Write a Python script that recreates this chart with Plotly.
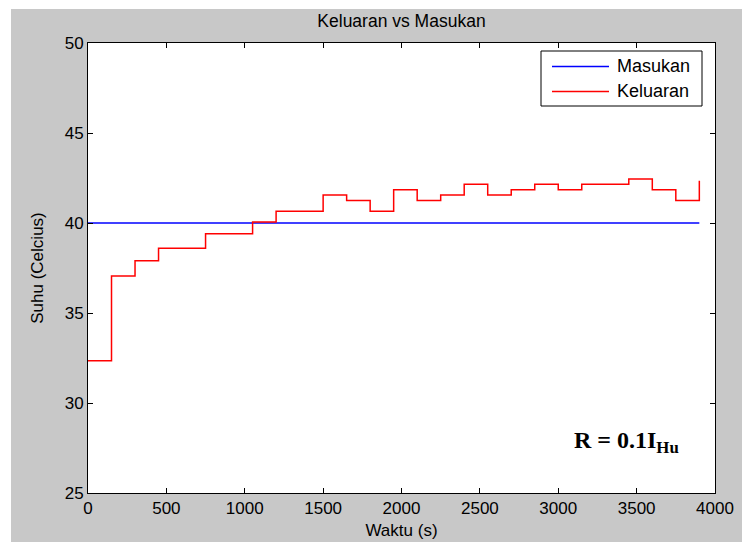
import plotly.graph_objects as go

# Sampled temperatures (every 150 s) and the constant set point
waktu = [0, 150, 300, 450, 600, 750, 900, 1050, 1200, 1350, 1500, 1650, 1800,
         1950, 2100, 2250, 2400, 2550, 2700, 2850, 3000, 3150, 3300, 3450,
         3600, 3750, 3900]
keluaran = [32.35, 37.05, 37.9, 38.6, 38.6, 39.4, 39.4, 40.05, 40.65, 40.65,
            41.55, 41.25, 40.65, 41.85, 41.25, 41.55, 42.15, 41.55, 41.85,
            42.15, 41.85, 42.15, 42.15, 42.45, 41.85, 41.25, 42.35]
masukan_t = [0, 3900]
masukan = [40, 40]

x_ticks = [0, 500, 1000, 1500, 2000, 2500, 3000, 3500, 4000]
y_ticks = [25, 30, 35, 40, 45, 50]

series = [("Masukan", "#0000ff"), ("Keluaran", "#ff0000")]

W, H = 742, 542
L, R, T, B = 88, 27, 43, 49
pw, ph = W - L - R, H - T - B


def px_x(p):
    return (p - L) / pw


def px_y(p):
    return (H - B - p) / ph


FONT = "Liberation Sans, Arial, sans-serif"

fig = go.Figure()
fig.add_trace(go.Scatter(x=masukan_t, y=masukan, mode="lines", name=series[0][0],
                         line=dict(color=series[0][1], width=1.5),
                         showlegend=False))
fig.add_trace(go.Scatter(x=waktu, y=keluaran, mode="lines", name=series[1][0],
                         line=dict(color=series[1][1], width=1.5, shape="hv"),
                         showlegend=False))

axis_common = dict(showgrid=False, zeroline=False, showline=True,
                   linecolor="black", linewidth=1, mirror="ticks",
                   ticks="inside", ticklen=5, tickcolor="black",
                   automargin=False,
                   tickfont=dict(family=FONT, size=17, color="black"))

fig.update_xaxes(range=[0, 4000], tickvals=x_ticks,
                 title=dict(text="Waktu (s)", standoff=6,
                            font=dict(family=FONT, size=17, color="black")),
                 **axis_common)
fig.update_yaxes(range=[25, 50], tickvals=y_ticks,
                 title=dict(text="Suhu (Celcius)", standoff=16,
                            font=dict(family=FONT, size=17, color="black")),
                 **axis_common)

# white border strips around the grey figure area
strip = dict(type="rect", xref="paper", yref="paper", fillcolor="white",
             line=dict(width=0), layer="below")
fig.add_shape(x0=px_x(0), x1=px_x(11), y0=px_y(H), y1=px_y(0), **strip)
fig.add_shape(x0=px_x(0), x1=px_x(W), y0=px_y(9), y1=px_y(0), **strip)

# legend box in the upper right corner
fig.add_shape(type="rect", xref="paper", yref="paper",
              x0=px_x(541), x1=px_x(702), y0=px_y(106), y1=px_y(51),
              fillcolor="white", line=dict(color="black", width=1))
for i, (name, color) in enumerate(series):
    row_y = px_y(66.5 + 25 * i)
    fig.add_shape(type="line", xref="paper", yref="paper",
                  x0=px_x(552), x1=px_x(609), y0=row_y, y1=row_y,
                  line=dict(color=color, width=1.5))
    fig.add_annotation(x=px_x(615), y=row_y, xref="paper", yref="paper",
                       xanchor="left", yanchor="middle", showarrow=False,
                       text=name,
                       font=dict(family=FONT, size=18, color="black"))

fig.add_annotation(x=3090, y=27.84, xref="x", yref="y", xanchor="left",
                   yanchor="middle", showarrow=False,
                   text="<b>R = 0.1I<sub>Hu</sub></b>",
                   font=dict(family="Liberation Serif, Times New Roman, serif",
                             size=24, color="black"))

fig.update_layout(
    width=W, height=H,
    margin=dict(l=L, r=R, t=T, b=B),
    paper_bgcolor="#c8c8c8", plot_bgcolor="white",
    showlegend=False,
    title=dict(text="Keluaran vs Masukan", x=px_x((L + W - R) / 2),
               xref="paper", y=1 - 20.5 / H, yref="container",
               yanchor="middle", xanchor="center",
               font=dict(family=FONT, size=17.5, color="black")),
)

fig.write_html("out.html")
